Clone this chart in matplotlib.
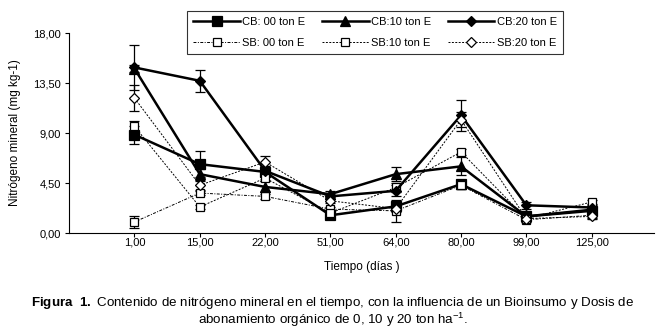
import matplotlib
matplotlib.use("Agg")
import matplotlib.pyplot as plt
import numpy as np

plt.rcParams['font.family'] = ['Liberation Sans', 'DejaVu Sans']
plt.rcParams['mathtext.fontset'] = 'custom'
plt.rcParams['mathtext.rm'] = 'Liberation Sans'
plt.rcParams['mathtext.bf'] = 'Liberation Sans:bold'
plt.rcParams['mathtext.it'] = 'Liberation Sans:italic'

days = ["1,00", "15,00", "22,00", "51,00", "64,00", "80,00", "99,00", "125,00"]

cb0 = [8.85, 6.2, 5.5, 1.6, 2.4, 4.4, 1.5, 2.0]
cb10 = [14.8, 5.3, 4.15, 3.5, 5.3, 6.0, 1.5, 2.1]
cb20 = [14.9, 13.7, 5.6, 3.3, 3.8, 10.6, 2.5, 2.3]
sb0 = [1.0, 3.6, 3.3, 2.15, 2.0, 4.3, 1.2, 1.6]
sb10 = [9.6, 2.35, 4.95, 1.8, 4.1, 7.3, 1.3, 2.8]
sb20 = [12.15, 4.3, 6.4, 2.9, 2.2, 10.2, 1.3, 1.5]

cb0_err = [0.8, 1.2, 0.4, 0.2, 0.3, 0.4, 0.2, 0.2]
cb10_err = [0.3, 0.5, 0.5, 0.3, 0.6, 0.8, 0.2, 0.2]
cb20_err = [2.0, 1.0, 0.4, 0.2, 0.5, 1.4, 0.3, 0.2]
sb0_err = [0.5, 0.2, 0.2, 0.2, 1.0, 0.3, 0.2, 0.2]
sb10_err = [0.5, 0.2, 0.3, 0.2, 0.4, 0.3, 0.2, 0.2]
sb20_err = [1.2, 0.4, 0.5, 0.2, 0.3, 0.7, 0.2, 0.2]

labels = ["CB: 00 ton E", "SB: 00 ton E", "CB:10 ton E", "SB:10 ton E",
          "CB:20 ton E", "SB:20 ton E"]

fig = plt.figure(figsize=(6.65, 3.32), dpi=100)
ax = fig.add_axes([0.104, 0.298, 0.879, 0.6026])

x = np.arange(1, len(days) + 1)

series = [
    (cb0, cb0_err, dict(marker='s', ms=7, mfc='black', ls='-', lw=1.8)),
    (sb0, sb0_err, dict(marker='s', ms=6, mfc='white', ls=(0, (3, 1.5, 1, 1.5)), lw=0.7)),
    (cb10, cb10_err, dict(marker='^', ms=7, mfc='black', ls='-', lw=1.8)),
    (sb10, sb10_err, dict(marker='s', ms=6, mfc='white', ls=(0, (2, 1.5)), lw=0.7)),
    (cb20, cb20_err, dict(marker='D', ms=5.5, mfc='black', ls='-', lw=1.8)),
    (sb20, sb20_err, dict(marker='D', ms=5, mfc='white', ls=(0, (2, 1.5)), lw=0.7)),
]

handles = []
for (vals, errs, st), lab in zip(series, labels):
    ax.errorbar(x, vals, yerr=errs, fmt='none', ecolor='black', elinewidth=0.9,
                capsize=3.5, capthick=0.9, zorder=2)
    h, = ax.plot(x, vals, color='black', mec='black', mew=0.9, label=lab, zorder=3, **st)
    handles.append(h)

ax.set_xlim(0, 8.95)
ax.set_ylim(0, 18)
ax.set_yticks([0, 4.5, 9, 13.5, 18])
ax.set_yticklabels(["0,00", "4,50", "9,00", "13,50", "18,00"])
ax.set_xticks(x)
ax.set_xticklabels(days)
ax.tick_params(axis='both', labelsize=8, length=3, width=0.8, color='black')
ax.tick_params(axis='x', pad=0.5)
ax.tick_params(axis='y', pad=3)
ax.spines['top'].set_visible(False)
ax.spines['right'].set_visible(False)
ax.spines['left'].set_linewidth(0.8)
ax.spines['bottom'].set_linewidth(0.8)

ax.set_xlabel("Tiempo (días )", fontsize=8.5, labelpad=9.5)
ax.set_ylabel("Nitrógeno mineral (mg kg-1)", fontsize=8.5, labelpad=9)

leg = fig.legend(handles=handles, labels=labels, ncol=3, loc='center',
                 bbox_to_anchor=(0.564, 0.902), fontsize=8, frameon=True,
                 fancybox=False, edgecolor='black', handlelength=4.2,
                 columnspacing=1.5, handletextpad=0.2, borderpad=0.55,
                 labelspacing=1.0)
leg.get_frame().set_linewidth(0.8)

fig.text(0.5, 0.087, r"$\mathbf{Figura\ \ 1.}$ Contenido de nitrógeno mineral en el tiempo, con la influencia de un Bioinsumo y Dosis de",
         ha='center', va='center', fontsize=9.6)
fig.text(0.5, 0.035, r"abonamiento orgánico de 0, 10 y 20 ton ha$^{\mathregular{-1}}$.",
         ha='center', va='center', fontsize=9.6)

fig.savefig("out.png", dpi=100)
